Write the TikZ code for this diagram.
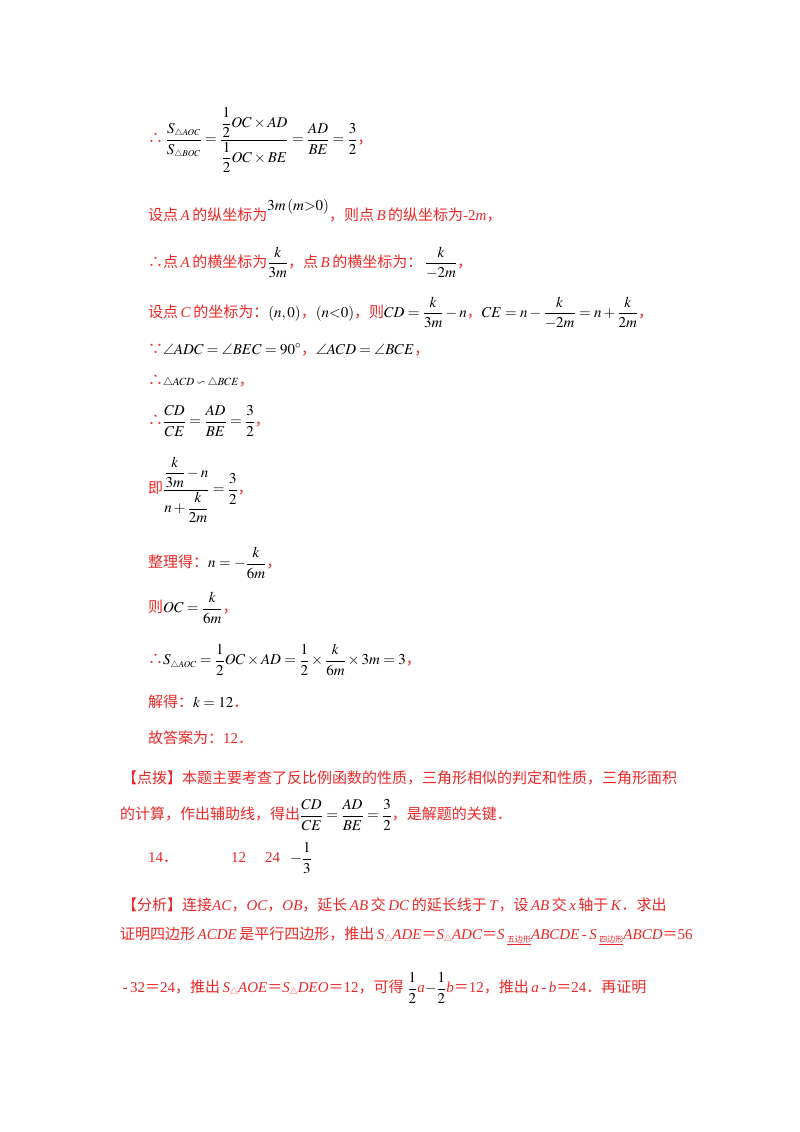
\documentclass[tikz,border=0pt]{standalone}
\usepackage{amsmath}
\usepackage{mathptmx}
\usepackage{amssymb}
\usepackage[no-math]{fontspec}
\setmainfont{Liberation Serif}
\newfontfamily\cjk{Noto Sans CJK SC}
\newcommand{\zh}[1]{{\cjk #1}}
\newcommand{\tri}{\raisebox{-2pt}{\cjk\fontsize{8}{8}\selectfont △}}
\newcommand{\subzh}[1]{\raisebox{-3pt}{\cjk\fontsize{8}{8}\selectfont\underline{#1}}}
\definecolor{ans}{RGB}{235,40,40}
\begin{document}
\begin{tikzpicture}[x=1pt,y=-1pt,
  every node/.style={anchor=west,inner sep=0pt,font=\fontsize{15}{18}\selectfont},
  rt/.style={text=ans}]
\useasboundingbox (0,0) rectangle (800,1132);
\node[rt] (l1) at (148,140) {\zh{∴}\,\textcolor{black}{$\dfrac{S_{\scriptscriptstyle\triangle AOC}}{S_{\scriptscriptstyle\triangle BOC}}=\dfrac{\dfrac12 OC\times AD}{\dfrac12 OC\times BE}=\dfrac{AD}{BE}=\dfrac32$}\zh{，}};
\node[rt] (l2) at (148,211) {\zh{设点}\,\textit{A}\,\zh{的纵坐标为}\raisebox{10pt}{\textcolor{black}{$3m\left(m{>}0\right)$}}\zh{，则点}\,\textit{B}\,\zh{的纵坐标为}-2\textit{m}\zh{，}};
\node[rt] (l3) at (148,263) {\zh{∴点}\,\textit{A}\,\zh{的横坐标为}\textcolor{black}{$\dfrac{k}{3m}$}\zh{，点}\,\textit{B}\,\zh{的横坐标为：}\,\textcolor{black}{$\dfrac{k}{-2m}$}\zh{，}};
\node[rt] (l4) at (148,313) {\zh{设点}\,\textit{C}\,\zh{的坐标为：}\textcolor{black}{$(n,0)$}\zh{，}\textcolor{black}{$(n{<}0)$}\zh{，则}\textcolor{black}{$CD=\dfrac{k}{3m}-n$}\zh{，}\textcolor{black}{$CE=n-\dfrac{k}{-2m}=n+\dfrac{k}{2m}$}\zh{，}};
\node[rt] (l5) at (148,350) {\zh{∵}\textcolor{black}{$\angle ADC=\angle BEC=90^\circ$}\zh{，}\textcolor{black}{$\angle ACD=\angle BCE$}\zh{，}};
\node[rt] (l6) at (148,381) {\zh{∴}\textcolor{black}{\fontsize{11}{13}\selectfont$\triangle ACD\backsim\triangle BCE$}\zh{，}};
\node[rt] (l7) at (148,421) {\zh{∴}\textcolor{black}{$\dfrac{CD}{CE}=\dfrac{AD}{BE}=\dfrac32$}\zh{，}};
\node[rt] (l8) at (148,490) {\zh{即}\textcolor{black}{$\dfrac{\dfrac{k}{3m}-n}{n+\dfrac{k}{2m}}=\dfrac32$}\zh{，}};
\node[rt] (l9) at (148,563) {\zh{整理得：}\textcolor{black}{$n=-\dfrac{k}{6m}$}\zh{，}};
\node[rt] (l10) at (148,608) {\zh{则}\textcolor{black}{$OC=\dfrac{k}{6m}$}\zh{，}};
\node[rt] (l11) at (148,660) {\zh{∴}\textcolor{black}{$S_{\scriptscriptstyle\triangle AOC}=\dfrac12 OC\times AD=\dfrac12\times\dfrac{k}{6m}\times 3m=3$}\zh{，}};
\node[rt] (l12) at (148,702) {\zh{解得：}\textcolor{black}{$k=12$}\zh{．}};
\node[rt] (l13) at (148,738) {\zh{故答案为：}12\zh{．}};
\node[rt] (l14) at (122,778) {\zh{【点拨】本题主要考查了反比例函数的性质，三角形相似的判定和性质，三角形面积}};
\node[rt] (l15) at (120,815) {\zh{的计算，作出辅助线，得出}\textcolor{black}{$\dfrac{CD}{CE}=\dfrac{AD}{BE}=\dfrac32$}\zh{，是解题的关键．}};
\node[rt] (l16) at (148,858) {14\zh{．}};
\node[rt] (l17) at (231,858) {12};
\node[rt] (l18) at (265,858) {24};
\node (l19) at (290,858) {$-\dfrac13$};
\node[rt] (l20) at (122,905) {\zh{【分析】连接}\textit{AC}\zh{，}\textit{OC}\zh{，}\textit{OB}\zh{，延长}\,\textit{AB}\,\zh{交}\,\textit{DC}\,\zh{的延长线于}\,\textit{T}\zh{，设}\,\textit{AB}\,\zh{交}\,\textit{x}\,\zh{轴于}\,\textit{K}\zh{．求出}};
\node[rt] (l21) at (120,936) {\zh{证明四边形}\,\textit{ACDE}\,\zh{是平行四边形，推出}\,\textit{S}\tri\textit{ADE}\zh{＝}\textit{S}\tri\textit{ADC}\zh{＝}\textit{S}\,\subzh{五边形}\textit{ABCDE}\,-\,\textit{S}\,\subzh{四边形}\textit{ABCD}\zh{＝}56};
\node[rt] (l22) at (120,988) {\,-\,32\zh{＝}24\zh{，推出}\,\textit{S}\tri\textit{AOE}\zh{＝}\textit{S}\tri\textit{DEO}\zh{＝}12\zh{，可得}\ \textcolor{black}{$\dfrac12$}\textit{a}\textcolor{black}{$-\dfrac12$}\textit{b}\zh{＝}12\zh{，推出}\,\textit{a}\,-\,\textit{b}\zh{＝}24\zh{．再证明}};
\end{tikzpicture}
\end{document}
